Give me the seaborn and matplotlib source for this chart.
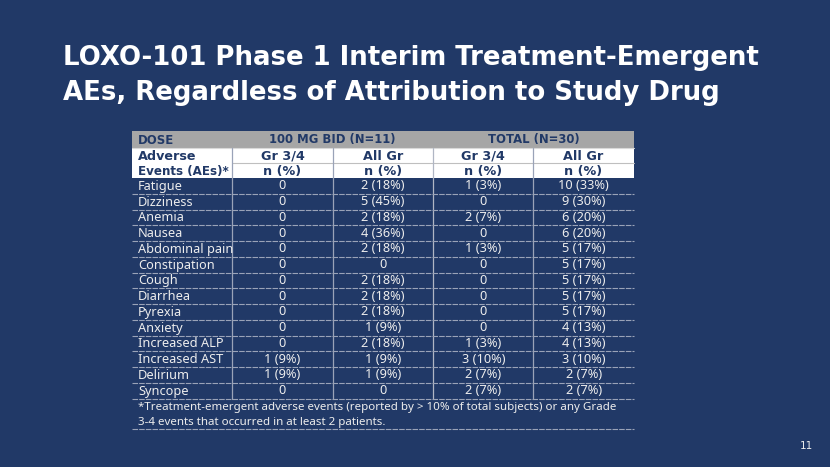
import numpy as np
import pandas as pd
import matplotlib
matplotlib.use('Agg')
import matplotlib.pyplot as plt
import seaborn as sns

# table data
events = ['Fatigue', 'Dizziness', 'Anemia', 'Nausea', 'Abdominal pain', 'Constipation',
          'Cough', 'Diarrhea', 'Pyrexia', 'Anxiety', 'Increased ALP', 'Increased AST',
          'Delirium', 'Syncope']
bid_gr34 = ['0', '0', '0', '0', '0', '0', '0', '0', '0', '0', '0', '1 (9%)', '1 (9%)', '0']
bid_all = ['2 (18%)', '5 (45%)', '2 (18%)', '4 (36%)', '2 (18%)', '0', '2 (18%)', '2 (18%)',
           '2 (18%)', '1 (9%)', '2 (18%)', '1 (9%)', '1 (9%)', '0']
tot_gr34 = ['1 (3%)', '0', '2 (7%)', '0', '1 (3%)', '0', '0', '0', '0', '0', '1 (3%)',
            '3 (10%)', '2 (7%)', '2 (7%)']
tot_all = ['10 (33%)', '9 (30%)', '6 (20%)', '6 (20%)', '5 (17%)', '5 (17%)', '5 (17%)',
           '5 (17%)', '5 (17%)', '4 (13%)', '4 (13%)', '3 (10%)', '2 (7%)', '2 (7%)']
col_groups = ['100 MG BID (N=11)', 'TOTAL (N=30)']
sub_cols = ['Gr 3/4', 'All Gr', 'Gr 3/4', 'All Gr']

title_lines = ['LOXO-101 Phase 1 Interim Treatment-Emergent',
               'AEs, Regardless of Attribution to Study Drug']
foot_lines = ['*Treatment-emergent adverse events (reported by > 10% of total subjects) or any Grade',
              '3-4 events that occurred in at least 2 patients.']

navy = '#213967'
grey_hdr = '#A6A6A6'
line_c = '#9AA3B8'
txt_c = '#EDEDED'
fs = 9.2
tfont = ['Noto Sans', 'DejaVu Sans']

sns.set_theme(style='white')
plt.rcParams['font.family'] = ['DejaVu Sans']

W, H = 830, 467
fig = plt.figure(figsize=(8.3, 4.67), dpi=100, facecolor=navy)

# layout in pixels
x_edges = [132, 232, 333, 433, 533, 634]
y_top, y_h1, y_h2, y_body = 131, 148, 163, 178
row_h = 15.75
y_bot = y_body + row_h * len(events)
y_foot = 429

# body values via seaborn heatmap (drawn first, overlay axes on top)
vals = pd.DataFrame({'a': bid_gr34, 'b': bid_all, 'c': tot_gr34, 'd': tot_all})
hax = fig.add_axes([x_edges[1] / W, 1 - y_bot / H, (x_edges[-1] - x_edges[1]) / W,
                    (y_bot - y_body) / H])
sns.heatmap(np.zeros(vals.shape), ax=hax, cmap=matplotlib.colors.ListedColormap([navy]),
            cbar=False, annot=vals.values, fmt='', xticklabels=False, yticklabels=False,
            annot_kws={'color': txt_c, 'fontsize': fs, 'family': tfont})
hax.axis('off')

ax = fig.add_axes([0, 0, 1, 1])
ax.set_xlim(0, W)
ax.set_ylim(H, 0)
ax.axis('off')
ax.patch.set_alpha(0)

# title
for i, t in enumerate(title_lines):
    ax.text(63, 65 + 35 * i, t, color='white', fontsize=18.7, fontweight='bold',
            va='baseline', ha='left')

# header backgrounds
ax.add_patch(plt.Rectangle((x_edges[0], y_top), x_edges[-1] - x_edges[0], y_h1 - y_top,
                           color=grey_hdr, lw=0))
ax.add_patch(plt.Rectangle((x_edges[0], y_h1), x_edges[-1] - x_edges[0], y_body - y_h1,
                           color='white', lw=0))

# labels column
for i, ev in enumerate(events):
    ax.text(138, y_body + row_h * (i + 0.5) + 0.5, ev, color=txt_c, fontsize=fs,
            va='center', ha='left', family=tfont)

# header text
hk = dict(color=navy, fontsize=fs, fontweight='bold', va='center', family=['DejaVu Sans'])
ax.text(138, (y_top + y_h1) / 2 + 0.5, 'DOSE', ha='left', **{**hk, 'fontsize': fs - 0.8})
for j, g in enumerate(col_groups):
    cx = (x_edges[1 + 2 * j] + x_edges[3 + 2 * j]) / 2
    ax.text(cx, (y_top + y_h1) / 2 + 0.5, g, ha='center', **{**hk, 'fontsize': fs - 0.8})
ax.text(138, (y_h1 + y_h2) / 2 + 0.5, 'Adverse', ha='left', **hk)
ax.text(138, (y_h2 + y_body) / 2 + 0.5, 'Events (AEs)*', ha='left', **{**hk, 'fontsize': fs - 0.6})
for j, s in enumerate(sub_cols):
    cx = (x_edges[1 + j] + x_edges[2 + j]) / 2
    ax.text(cx, (y_h1 + y_h2) / 2 + 0.5, s, ha='center', **hk)
    ax.text(cx, (y_h2 + y_body) / 2 + 0.5, 'n (%)', ha='center', **hk)

# grid lines
ax.plot([x_edges[0], x_edges[-1]], [y_h1, y_h1], color='#D9D9D9', lw=0.8)
ax.plot([x_edges[1], x_edges[-1]], [y_h2, y_h2], color='#BFBFBF', lw=0.8)
for x in x_edges[1:-1]:
    ax.plot([x, x], [y_h1, y_bot], color=line_c if x != 433 else '#B0B6C4', lw=0.9)
for i in range(1, len(events) + 1):
    y = y_body + row_h * i
    ax.plot([x_edges[0], x_edges[-1]], [y, y], color=line_c, lw=0.8, ls=(0, (5, 1)))
ax.plot([x_edges[0], x_edges[-1]], [y_foot, y_foot], color=line_c, lw=0.8, ls=(0, (5, 1)))

# footnote
for i, t in enumerate(foot_lines):
    ax.text(138, 407.5 + 15 * i, t, color=txt_c, fontsize=8.3, va='center', ha='left',
            family=tfont)
ax.text(806, 446, '11', color=txt_c, fontsize=7.5, va='center', ha='center')

fig.savefig('out.png', dpi=100, facecolor=navy)
